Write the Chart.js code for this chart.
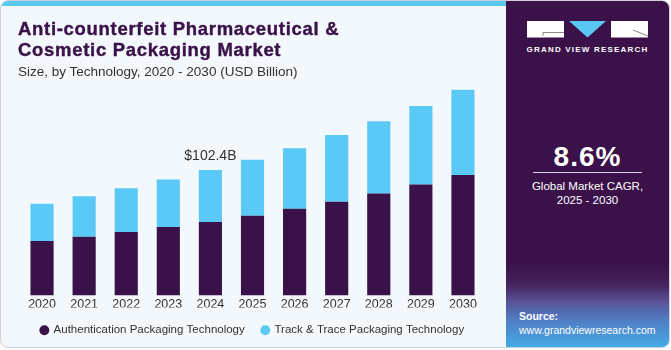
<!DOCTYPE html>
<html>
<head>
<meta charset="utf-8">
<script src="https://cdn.jsdelivr.net/npm/chart.js@4.4.1/dist/chart.umd.min.js"></script>
<style>
  html, body { margin: 0; padding: 0; background: #ffffff; }
  body { width: 671px; height: 350px; position: relative; overflow: hidden; font-family: "Liberation Sans", Arial, sans-serif; }
  .card { position: absolute; left: 0; top: 0; width: 668px; height: 346px; border: 1px solid #cfd3d7; border-radius: 8px; overflow: hidden; background: #f3f8fc; }
  .stripe { position: absolute; left: 0; top: 0; width: 506px; height: 5px; background: #5bc8f4; }
  .side { position: absolute; left: 505px; top: 0; width: 163px; height: 346px;
    background: linear-gradient(to bottom, #3a1249 0px, #3a1249 262px, #45235f 284px, #5a5196 300px, #4f7fc4 320px, #46aae8 346px); }
  .chart-box { position: absolute; left: -1px; top: -1px; width: 506px; height: 347px; }
  .title { position: absolute; left: 17px; top: 18px; color: #3a1249; font-weight: bold; font-size: 18.5px; line-height: 20.7px; letter-spacing: 0.7px; -webkit-text-stroke: 0.4px #3a1249; }
  .subtitle { position: absolute; left: 17px; top: 63px; color: #333333; font-size: 13.5px; }
  .logo { position: absolute; left: 21px; top: 20px; }
  .brand { position: absolute; left: 0; width: 163px; top: 44px; text-align: center; color: #ffffff; font-weight: bold; font-size: 8px; letter-spacing: 1.2px; }
  .cagr { position: absolute; left: 0; width: 163px; top: 140px; text-align: center; color: #ffffff; font-weight: bold; font-size: 28px; letter-spacing: 1px; }
  .rule { position: absolute; left: 27px; width: 109px; top: 171px; height: 1px; background: #d9cfe2; }
  .cagr-text { position: absolute; left: 0; width: 163px; top: 178px; text-align: center; color: #ffffff; font-size: 11.5px; line-height: 14px; }
  .source { position: absolute; left: 13px; top: 308px; color: #ffffff; font-size: 10.5px; line-height: 14px; }
</style>
</head>
<body>
<div class="card">
  <div class="stripe"></div>
  <div class="chart-box"><canvas id="marketChart"></canvas></div>
  <div class="title">Anti-counterfeit Pharmaceutical &amp;<br>Cosmetic Packaging Market</div>
  <div class="subtitle">Size, by Technology, 2020 - 2030 (USD Billion)</div>
  <div class="side">
    <svg class="logo" width="122" height="18" viewBox="0 0 122 18">
      <rect x="0" y="0" width="37" height="16.5" fill="#ffffff"/>
      <polyline points="16,15 16,11.5 37,11.5" fill="none" stroke="#8a8a8a" stroke-width="1"/>
      <polygon points="42,0 79,0 60.5,16.5" fill="#5bc8f4"/>
      <rect x="84" y="0" width="37" height="16.5" fill="#ffffff"/>
      <line x1="106" y1="9" x2="121" y2="15" stroke="#8a8a8a" stroke-width="1"/>
    </svg>
    <div class="brand">GRAND VIEW RESEARCH</div>
    <div class="cagr">8.6%</div>
    <div class="rule"></div>
    <div class="cagr-text">Global Market CAGR,<br>2025 - 2030</div>
    <div class="source"><b>Source:</b><br>www.grandviewresearch.com</div>
  </div>
</div>
<script>
// values (USD Billion)
const years = ['2020', '2021', '2022', '2023', '2024', '2025', '2026', '2027', '2028', '2029', '2030'];
const authentication = [44.5, 48.0, 51.9, 56.0, 60.1, 65.1, 70.8, 76.6, 83.2, 90.6, 98.3];
const trackTrace = [30.5, 33.0, 35.7, 38.7, 42.3, 45.8, 49.4, 54.4, 59.0, 64.0, 69.7];
const seriesNames = ['Authentication Packaging Technology', 'Track & Trace Packaging Technology'];
const calloutYear = '2024';
const calloutText = '$102.4B';

const purple = '#381248';
const sky = '#5bc9f5';

// label over the 2024 stack
const calloutPlugin = {
  id: 'callout',
  afterDatasetsDraw(chart) {
    const idx = years.indexOf(calloutYear);
    const top = chart.getDatasetMeta(chart.data.datasets.length - 1).data[idx];
    const ctx = chart.ctx;
    ctx.save();
    ctx.font = '14px "Liberation Sans", Arial, sans-serif';
    ctx.fillStyle = '#333333';
    ctx.textAlign = 'center';
    ctx.textBaseline = 'alphabetic';
    ctx.fillText(calloutText, top.x, top.y - 10);
    ctx.restore();
  }
};

const ctx = document.getElementById('marketChart').getContext('2d');
new Chart(ctx, {
  type: 'bar',
  data: {
    labels: years,
    datasets: [{
      label: seriesNames[0],
      data: authentication,
      backgroundColor: purple
    }, {
      label: seriesNames[1],
      data: trackTrace,
      backgroundColor: sky
    }]
  },
  options: {
    responsive: true,
    maintainAspectRatio: false,
    animation: false,
    datasets: {
      bar: { categoryPercentage: 1, barPercentage: 0.55 }
    },
    layout: {
      padding: { left: 21, right: 22, top: 75, bottom: 1 }
    },
    scales: {
      x: {
        stacked: true,
        grid: { display: false, drawTicks: false },
        border: { display: false },
        ticks: {
          color: '#333333',
          padding: 2,
          font: { family: '"Liberation Sans", Arial, sans-serif', size: 12.5 }
        },
        // pull the legend a little closer to the year labels
        afterFit(scale) { scale.height -= 7; }
      },
      y: {
        stacked: true,
        display: false,
        min: 0,
        max: 180
      }
    },
    plugins: {
      legend: {
        position: 'bottom',
        labels: {
          usePointStyle: true,
          pointStyle: 'circle',
          boxWidth: 7,
          boxHeight: 7,
          padding: 17,
          color: '#333333',
          font: { family: '"Liberation Sans", Arial, sans-serif', size: 11.5 }
        }
      },
      tooltip: { enabled: false }
    }
  },
  plugins: [calloutPlugin]
});
</script>
</body>
</html>
